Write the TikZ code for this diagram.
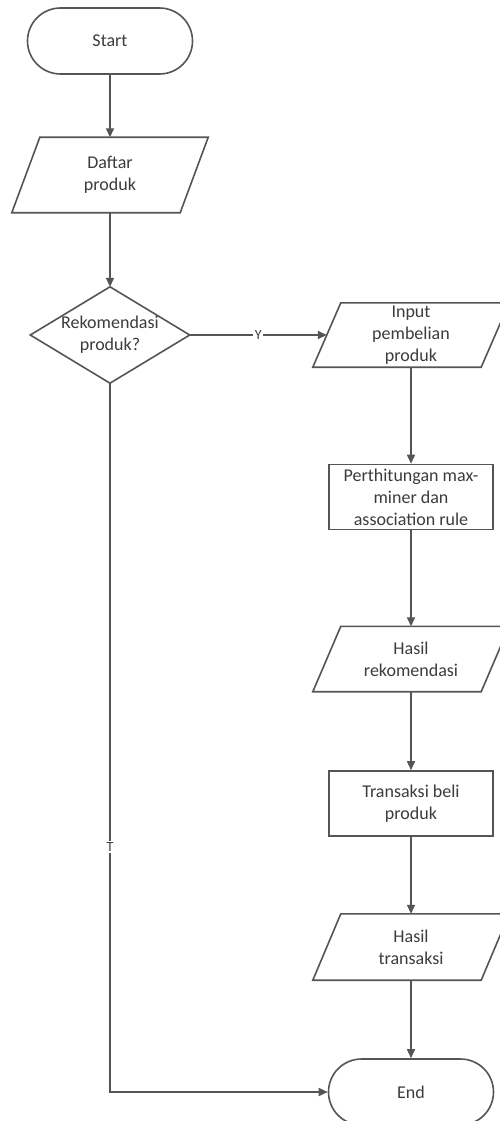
\documentclass[tikz,border=0pt]{standalone}
\usepackage{fontspec}
\setmainfont{Carlito}
\usetikzlibrary{arrows.meta}
\definecolor{ln}{HTML}{555555}
\definecolor{tx}{HTML}{3C3C3C}
\begin{document}
\begin{tikzpicture}[x=1pt,y=-1pt,
  base/.style={align=center, text=tx, inner sep=0pt,
    font=\fontsize{18}{22}\selectfont},
  term/.style={base, draw=ln, line width=1.6pt, rectangle, rounded corners=33pt,
    minimum width=165pt, minimum height=66pt},
  proc/.style={base, draw=ln, line width=1.6pt, rectangle,
    minimum width=164pt, minimum height=65pt},
  iobox/.style={base, draw=none, rectangle, minimum width=168pt, minimum height=65pt},
  decbox/.style={base, draw=none, rectangle, minimum width=159pt, minimum height=96pt},
  shapeline/.style={draw=ln, line width=1.6pt, line join=miter},
  arr/.style={draw=ln, line width=1.6pt, -{Triangle[length=9pt,width=8pt]}},
  lbl/.style={fill=white, text=tx, inner sep=1.5pt, font=\fontsize{14}{16}\selectfont}]
\useasboundingbox (0,0) rectangle (499,1121);
\fill[white] (0,0) rectangle (499,1121);

\node[term] (start) at (110,41) {Start};
\node[iobox, minimum height=75pt] (daftar) at (110,175) {Daftar\\produk};
\node[decbox] (dec) at (110,335) {Rekomendasi\\produk?};
\node[iobox, minimum height=64pt] (input) at (411,335) {Input\\pembelian\\produk};
\node[proc] (calc) at (411,497) {Perthitungan max-\\miner dan\\association rule};
\node[iobox] (hrek) at (411,659) {Hasil\\rekomendasi};
\node[proc] (trans) at (411,803.5) {Transaksi beli\\produk};
\node[iobox, minimum height=66pt] (htrans) at (411,947) {Hasil\\transaksi};
\node[term] (end) at (411,1092) {End};

\foreach \n in {daftar,input,hrek,htrans}
  \draw[shapeline] ([xshift=14pt]\n.north west) -- ([xshift=14pt]\n.north east)
    -- ([xshift=-14pt]\n.south east) -- ([xshift=-14pt]\n.south west) -- cycle;
\draw[shapeline] (dec.north) -- (dec.east) -- (dec.south) -- (dec.west) -- cycle;

\draw[arr] (start) -- (daftar);
\draw[arr] (daftar) -- (dec);
\draw[arr] (dec.east) -- node[lbl] {Y} (input.west);
\draw[arr] (input) -- (calc);
\draw[arr] (calc) -- (hrek);
\draw[arr] (hrek) -- (trans);
\draw[arr] (trans) -- (htrans);
\draw[arr] (htrans) -- (end);
\draw[arr] (dec.south) |- node[lbl, pos=0.327] {T} (end.west);
\end{tikzpicture}
\end{document}
